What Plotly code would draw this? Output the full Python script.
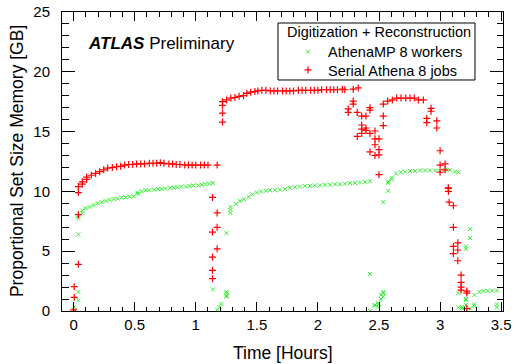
import plotly.graph_objects as go

# ---------------- data (time in hours, PSS memory in GB) ----------------
# Serial Athena 8 jobs (red +)
serial_t_1 = [0.0, 0.005, 0.005, 0.039, 0.039, 0.039, 0.039, 0.071, 0.071, 0.107, 0.107,
              0.145, 0.18, 0.213, 0.246, 0.279, 0.317, 0.352, 0.385, 0.418, 0.451, 0.484, 0.516]
serial_v_1 = [0.1, 1.14, 2.03, 3.9, 8.05, 9.9, 10.4, 10.6, 10.8, 11.0, 11.2,
              11.35, 11.5, 11.65, 11.8, 11.95, 12.0, 12.06, 12.1, 12.2, 12.25, 12.25, 12.3]
serial_t_2 = [0.55, 0.58, 0.62, 0.65, 0.68, 0.71, 0.74, 0.78, 0.81, 0.84, 0.87, 0.91, 0.94,
              0.97, 1.0, 1.04, 1.07, 1.10, 1.175]
serial_v_2 = [12.3, 12.3, 12.35, 12.35, 12.35, 12.4, 12.35, 12.3, 12.3, 12.25, 12.25, 12.2, 12.2,
              12.2, 12.2, 12.2, 12.2, 12.2, 12.2]
serial_t_3 = [1.137, 1.137, 1.137, 1.137, 1.137, 1.175, 1.175, 1.175]
serial_v_3 = [9.5, 6.6, 4.5, 3.4, 2.7, 8.2, 7.0, 5.2]
serial_t_4 = [1.219, 1.219, 1.219, 1.219, 1.252, 1.287, 1.32, 1.355, 1.391, 1.418, 1.45,
              1.484, 1.508, 1.541, 1.574]
serial_v_4 = [15.8, 16.55, 17.2, 17.5, 17.65, 17.8, 17.85, 17.95, 18.0, 18.2, 18.3,
              18.35, 18.4, 18.45, 18.45]
serial_t_5 = [1.61, 1.64, 1.67, 1.71, 1.74, 1.77, 1.80, 1.84, 1.87, 1.90, 1.94, 1.97, 2.0,
              2.03, 2.07, 2.10, 2.13, 2.16, 2.20, 2.22, 2.289, 2.33]
serial_v_5 = [18.4, 18.4, 18.4, 18.4, 18.4, 18.4, 18.4, 18.45, 18.45, 18.45, 18.45, 18.45, 18.45,
              18.5, 18.5, 18.5, 18.5, 18.5, 18.55, 18.5, 18.55, 18.65]
serial_t_6 = [2.248, 2.248, 2.289, 2.289, 2.322, 2.322, 2.358, 2.358, 2.358, 2.358, 2.393, 2.393,
              2.393, 2.426, 2.426, 2.426, 2.426, 2.467, 2.467, 2.467, 2.467, 2.5, 2.5, 2.5, 2.5]
serial_v_6 = [16.9, 16.6, 17.55, 17.3, 16.6, 14.6, 16.3, 15.55, 15.2, 14.85, 16.3, 15.3,
              15.1, 17.0, 16.8, 14.85, 13.3, 15.05, 14.4, 13.9, 13.0, 14.4, 13.5, 13.05, 11.4]
serial_t_7 = [2.535, 2.535, 2.535, 2.571, 2.609, 2.645, 2.68, 2.719, 2.754, 2.789, 2.822, 2.863]
serial_v_7 = [17.3, 16.3, 15.5, 17.55, 17.65, 17.8, 17.8, 17.8, 17.8, 17.8, 17.65, 17.65]
serial_t_8 = [2.891, 2.891, 2.926, 2.926, 2.973, 2.973, 3.0, 3.0, 3.0, 3.041, 3.041, 3.068, 3.068,
              3.068, 3.074, 3.109, 3.109, 3.109, 3.109, 3.145, 3.145, 3.145, 3.172, 3.172, 3.172,
              3.172, 3.219, 3.219, 3.219]
serial_v_8 = [16.1, 15.75, 16.95, 16.7, 15.9, 15.3, 13.4, 12.2, 11.6, 12.3, 11.8, 10.3, 10.25,
              10.0, 9.1, 8.8, 7.0, 5.4, 4.8, 5.7, 5.1, 4.2, 3.0, 2.4, 2.0,
              1.75, 1.67, 1.5, 0.2]

# AthenaMP 8 workers (green x)
mp_t_1 = [0.006, 0.006, 0.039, 0.039, 0.039, 0.039, 0.039, 0.071, 0.071, 0.098, 0.131, 0.164,
          0.197, 0.23, 0.262, 0.295, 0.328, 0.361, 0.393, 0.426, 0.459, 0.492, 0.525, 0.525,
          0.557, 0.59]
mp_v_1 = [0.1, 0.35, 0.9, 1.6, 6.4, 7.75, 7.95, 8.2, 8.4, 8.6, 8.7, 8.85,
          9.0, 9.1, 9.2, 9.3, 9.35, 9.4, 9.5, 9.5, 9.55, 9.6, 9.8, 9.9,
          10.0, 10.1]
mp_t_2 = [0.62, 0.66, 0.69, 0.72, 0.75, 0.79, 0.82, 0.85, 0.88, 0.92, 0.95, 0.98, 1.02, 1.05,
          1.08, 1.11, 1.14]
mp_v_2 = [10.1, 10.15, 10.2, 10.2, 10.25, 10.3, 10.3, 10.35, 10.4, 10.4, 10.45, 10.5, 10.5, 10.55,
          10.6, 10.65, 10.7]
mp_t_3 = [1.14, 1.175, 1.197, 1.21, 1.252, 1.252, 1.252, 1.252, 1.252, 1.284, 1.284, 1.284]
mp_v_3 = [1.8, 0.1, 0.3, 0.6, 1.2, 1.3, 1.5, 1.6, 6.5, 8.2, 8.45, 8.7]
mp_t_4 = [1.328, 1.361, 1.393, 1.432, 1.465, 1.5, 1.533, 1.574, 1.607, 1.648, 1.689, 1.73, 1.77,
          1.811, 1.852, 1.893, 1.934, 1.975, 2.016, 2.057, 2.098, 2.139, 2.18, 2.221, 2.262,
          2.303, 2.344, 2.385, 2.426]
mp_v_4 = [8.95, 9.2, 9.35, 9.55, 9.75, 9.9, 10.0, 10.05, 10.1, 10.1, 10.15, 10.2, 10.3,
          10.35, 10.4, 10.45, 10.45, 10.5, 10.5, 10.55, 10.55, 10.6, 10.6, 10.65, 10.7,
          10.7, 10.75, 10.8, 10.85]
mp_t_5 = [2.426, 2.426, 2.46, 2.467, 2.495, 2.495, 2.495, 2.516, 2.516, 2.535, 2.535, 2.535, 2.535,
          2.576, 2.576, 2.576, 2.604, 2.604, 2.639, 2.678, 2.713, 2.754, 2.795, 2.836, 2.877,
          2.918, 2.959, 3.0, 3.041, 3.082, 3.123, 3.15]
mp_v_5 = [3.1, 0.0, 0.45, 0.5, 0.55, 0.65, 0.3, 1.35, 1.0, 1.6, 1.5, 1.2, 9.1,
          10.05, 10.7, 10.8, 11.0, 11.15, 11.5, 11.6, 11.65, 11.7, 11.7, 11.75, 11.75,
          11.75, 11.75, 11.7, 11.8, 11.8, 11.65, 11.6]
mp_t_6 = [3.15, 3.15, 3.178, 3.178, 3.211, 3.211, 3.211, 3.211, 3.211, 3.246, 3.246, 3.246,
          3.281, 3.281, 3.281, 3.322, 3.355, 3.391, 3.426, 3.465, 3.465, 3.465]
mp_v_6 = [1.5, 0.3, 0.22, 0.35, 5.4, 5.2, 0.5, 0.9, 1.0, 6.85, 6.1, 0.2,
          1.35, 0.55, 0.4, 1.6, 1.67, 1.7, 1.7, 1.7, 0.55, 0.3]

serial_t = serial_t_1 + serial_t_2 + serial_t_3 + serial_t_4 + serial_t_5 + serial_t_6 + serial_t_7 + serial_t_8
serial_v = serial_v_1 + serial_v_2 + serial_v_3 + serial_v_4 + serial_v_5 + serial_v_6 + serial_v_7 + serial_v_8
mp_t = mp_t_1 + mp_t_2 + mp_t_3 + mp_t_4 + mp_t_5 + mp_t_6
mp_v = mp_v_1 + mp_v_2 + mp_v_3 + mp_v_4 + mp_v_5 + mp_v_6

FONT = "Liberation Sans, Arial, Helvetica, sans-serif"

fig = go.Figure()
fig.add_trace(go.Scatter(
    x=mp_t, y=mp_v, mode="markers", name="AthenaMP 8 workers", legend="legend",
    marker=dict(symbol="x-thin", size=4, color="#33ee33",
                line=dict(color="#33ee33", width=1)),
))
fig.add_trace(go.Scatter(
    x=serial_t, y=serial_v, mode="markers", name="Serial Athena 8 jobs", legend="legend2",
    marker=dict(symbol="cross-thin", size=5, color="#ff0000",
                line=dict(color="#ff0000", width=1.2)),
))

legend_common = dict(
    xanchor="left", yanchor="top", borderwidth=0, bgcolor="rgba(0,0,0,0)",
    font=dict(family=FONT, size=14.5, color="black"), itemwidth=30,
)

fig.update_layout(
    width=516, height=364,
    margin=dict(l=62, r=13, t=12, b=53, autoexpand=False),
    paper_bgcolor="white", plot_bgcolor="white",
    font=dict(family=FONT, size=15, color="black"),
    showlegend=True,
    legend=dict(x=0.5125, y=0.9207, **legend_common),
    legend2=dict(x=0.5125, y=0.8595, **legend_common),
    shapes=[dict(
        type="rect", xref="paper", yref="paper",
        x0=0.4898, x1=0.9365, y0=0.7726, y1=0.9632,
        line=dict(color="black", width=1), fillcolor="white", layer="above",
    )],
    annotations=[
        dict(text="<b><i>ATLAS</i></b> Preliminary", xref="paper", yref="paper",
             x=0.054, y=0.896, xanchor="left", yanchor="middle", showarrow=False,
             font=dict(family=FONT, size=17, color="black")),
        dict(text="Digitization + Reconstruction", xref="paper", yref="paper",
             x=0.5057, y=0.9341, xanchor="left", yanchor="middle", showarrow=False,
             font=dict(family=FONT, size=14.5, color="black")),
        dict(text="Time [Hours]", xref="paper", yref="paper",
             x=0.5, y=-0.1405, xanchor="center", yanchor="middle", showarrow=False,
             font=dict(family=FONT, size=17.5, color="black")),
        dict(text="Proportional Set Size Memory [GB]", xref="paper", yref="paper",
             x=-0.103, y=0.5, xanchor="center", yanchor="middle", showarrow=False,
             textangle=-90, font=dict(family=FONT, size=17.5, color="black")),
    ],
)

fig.update_xaxes(
    range=[-0.095, 3.515], tickmode="linear", tick0=0, dtick=0.5,
    ticks="inside", ticklen=9, tickwidth=1, tickcolor="black",
    minor=dict(ticks="inside", dtick=0.1, ticklen=4.5, tickcolor="black", tickwidth=1),
    showline=True, linecolor="black", linewidth=1, mirror="ticks",
    showgrid=False, zeroline=False, automargin=False,
    tickfont=dict(family=FONT, size=15, color="black"),
    ticklabelstandoff=0,
)
fig.update_yaxes(
    range=[0, 25], tickmode="linear", tick0=0, dtick=5,
    ticks="inside", ticklen=13, tickwidth=1, tickcolor="black",
    minor=dict(ticks="inside", dtick=1, ticklen=6.5, tickcolor="black", tickwidth=1),
    showline=True, linecolor="black", linewidth=1, mirror="ticks",
    showgrid=False, zeroline=False, automargin=False,
    tickfont=dict(family=FONT, size=15, color="black"),
    ticklabelstandoff=8,
)

fig.write_html("out.html", config={"displayModeBar": False},
               post_script="document.body.style.margin='0';document.body.style.overflow='hidden';")
